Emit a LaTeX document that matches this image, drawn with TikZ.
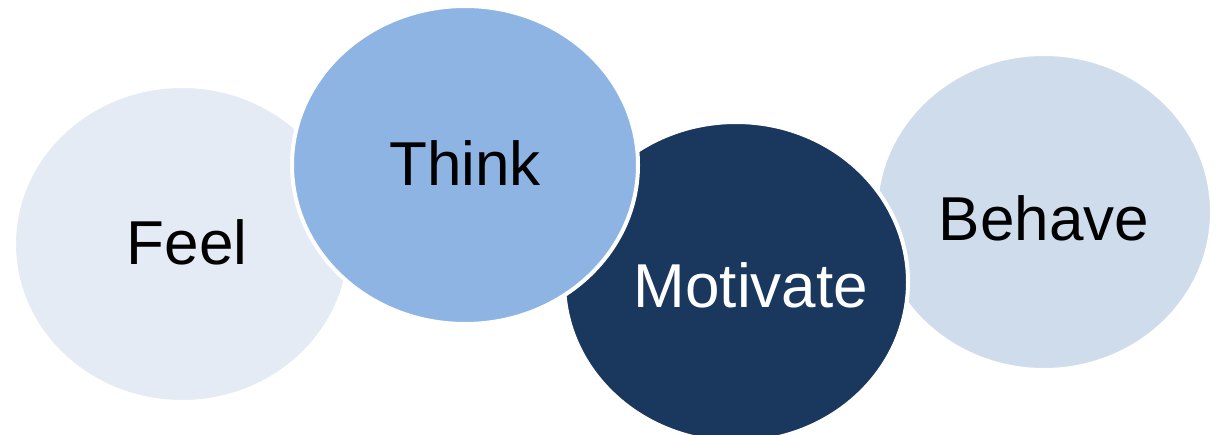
\documentclass[tikz,border=0pt]{standalone}
\usepackage{fontspec}
\setmainfont{Liberation Sans}
\usetikzlibrary{shapes.geometric}
\definecolor{feelc}{HTML}{E4EBF4}
\definecolor{thinkc}{HTML}{8EB4E3}
\definecolor{motc}{HTML}{1A375E}
\definecolor{behc}{HTML}{CEDCEC}
\tikzset{
  blob/.style={ellipse, draw=white, line width=4pt, inner sep=0pt},
  lbl/.style={anchor=base, font=\fontsize{62}{62}\selectfont, inner sep=0pt}
}
\begin{document}
\begin{tikzpicture}[x=1pt,y=-1pt]
\useasboundingbox[fill=white] (0,0) rectangle (1216,434);
\node[blob, fill=feelc, minimum width=336pt, minimum height=316pt] (feel) at (182,244) {};
\node[blob, fill=behc, minimum width=336pt, minimum height=316pt] (behave) at (1044,212) {};
\node[blob, fill=motc, minimum width=344pt, minimum height=320pt] (motivate) at (736,282) {};
\node[blob, fill=thinkc, minimum width=346pt, minimum height=318pt] (think) at (465,165) {};
\node[lbl, text=black] (tfeel) at (187,264) {Feel};
\node[lbl, text=black] (tthink) at (465,185) {Think};
\node[lbl, text=white] (tmot) at (751,307) {Motivate};
\node[lbl, text=black] (tbeh) at (1044,240) {Behave};
\end{tikzpicture}
\end{document}
